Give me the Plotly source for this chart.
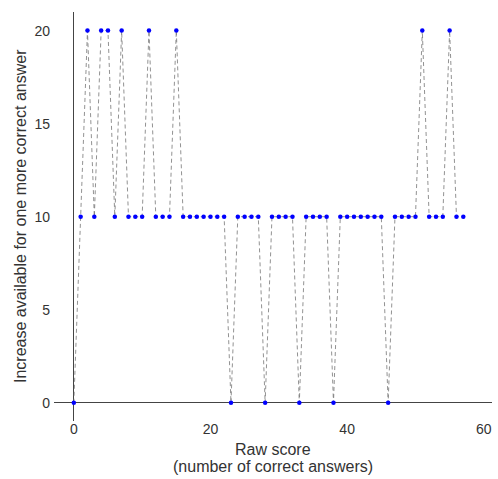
import plotly.graph_objects as go

raw_score = list(range(0, 58))
twenty_at = [2, 4, 5, 7, 11, 15, 51, 55]
zero_at = [0, 23, 28, 33, 38, 46]
increase = []
for s in raw_score:
    if s in twenty_at:
        increase.append(20)
    elif s in zero_at:
        increase.append(0)
    else:
        increase.append(10)

x_ticks = [0, 20, 40, 60]
y_ticks = [0, 5, 10, 15, 20]

fig = go.Figure()
fig.add_trace(go.Scatter(
    x=raw_score, y=increase, mode="lines",
    line=dict(color="rgba(110,110,110,0.75)", width=1, dash="4px,3px"),
    hoverinfo="skip", showlegend=False))
fig.add_trace(go.Scatter(
    x=raw_score, y=increase, mode="markers",
    marker=dict(color="#0000ff", size=4.5),
    showlegend=False))

font = dict(family="Liberation Sans, Arial, sans-serif", color="#333333")
fig.update_layout(
    width=498, height=479,
    margin=dict(l=54, r=6, t=12, b=58),
    paper_bgcolor="white", plot_bgcolor="white",
    font=dict(size=14, **font),
    xaxis=dict(range=[-2.9, 61.2], tickvals=x_ticks, showgrid=False, automargin=False,
               zeroline=True, zerolinecolor="#444444", zerolinewidth=1,
               showline=False, ticks="", ticklabelstandoff=-2),
    yaxis=dict(range=[-0.98, 21], tickvals=y_ticks, showgrid=False, automargin=False,
               zeroline=True, zerolinecolor="#444444", zerolinewidth=1,
               showline=False, ticks="", ticklabelstandoff=3),
    annotations=[
        dict(text="Raw score", xref="paper", yref="paper",
             x=0.5, y=0, yshift=-28, xanchor="center", yanchor="middle", showarrow=False,
             font=dict(size=16)),
        dict(text="(number of correct answers)", xref="paper", yref="paper",
             x=0.5, y=0, yshift=-45, xanchor="center", yanchor="middle", showarrow=False,
             font=dict(size=16)),
        dict(text="Increase available for one more correct answer", xref="paper", yref="paper",
             x=0, xshift=-23, y=0.5, xanchor="right", yanchor="middle", textangle=-90,
             showarrow=False, font=dict(size=16)),
    ],
)
fig.write_html("out.html", post_script="document.body.style.margin='0px';",
               config={"displayModeBar": False})
